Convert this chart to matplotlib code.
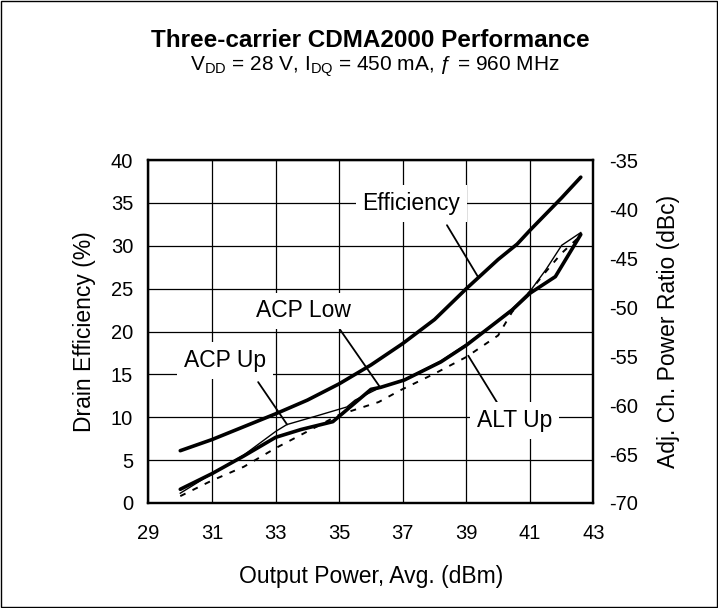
import numpy as np
import matplotlib; matplotlib.use("Agg")
import matplotlib.pyplot as plt
from matplotlib.patches import Rectangle

plt.rcParams['font.family'] = ['Liberation Sans', 'DejaVu Sans']
plt.rcParams['mathtext.fontset'] = 'custom'
plt.rcParams['mathtext.rm'] = 'Liberation Sans'
plt.rcParams['mathtext.it'] = 'Liberation Sans:italic'
plt.rcParams['axes.unicode_minus'] = False

# drain efficiency (%) vs output power (dBm), left axis
eff_x = [30.0, 31.0, 32.0, 33.0, 34.0, 35.0, 36.0, 37.0, 38.0, 39.0, 40.0, 40.6, 41.0, 42.0, 42.6]
eff_y = [6.1, 7.4, 8.9, 10.4, 12.0, 13.9, 16.1, 18.6, 21.4, 25.0, 28.4, 30.2, 31.8, 35.6, 38.0]

# adjacent channel power ratios (dBc), right axis
acpl_x = [30.0, 31.0, 32.0, 33.0, 33.8, 34.8, 36.0, 36.3, 37.05, 38.2, 39.0, 40.44, 41.0, 41.8, 42.6]
acpl_y = [-68.6, -67.0, -65.2, -63.3, -62.5, -61.7, -58.4, -58.2, -57.45, -55.6, -53.9, -50.3, -48.6, -46.9, -42.6]

acpu_x = [30.0, 31.0, 32.0, 33.0, 33.35, 34.2, 35.24, 35.5, 36.3, 37.05, 38.2, 39.0, 39.9, 40.44, 41.0, 41.5, 42.0, 42.6]
acpu_y = [-69.0, -67.0, -65.1, -62.7, -62.0, -61.2, -60.2, -59.5, -58.2, -57.4, -55.5, -53.8, -51.6, -50.2, -48.4, -46.2, -43.7, -42.4]

altu_x = [30.0, 31.0, 32.0, 33.0, 34.0, 35.0, 36.24, 36.92, 38.0, 39.0, 40.0, 40.44, 41.0, 41.5, 42.0, 42.6]
altu_y = [-69.3, -67.7, -66.3, -64.4, -62.7, -61.0, -59.7, -58.5, -56.8, -55.1, -52.9, -50.5, -48.4, -46.4, -44.5, -42.7]

fig = plt.figure(figsize=(7.18, 6.08), dpi=100)
ax = fig.add_axes([0.2068, 0.1727, 0.6198, 0.5641])
ax2 = ax.twinx()

ax.plot(eff_x, eff_y, color="k", lw=2.6, solid_capstyle="round", zorder=4)
ax2.plot(acpl_x, acpl_y, color="k", lw=2.6, solid_capstyle="round")
ax2.plot(acpu_x, acpu_y, color="k", lw=1.0)
ax2.plot(altu_x, altu_y, color="k", lw=1.4, ls=(0, (3, 4)))

ax.set_xlim(29, 43); ax.set_ylim(0, 40)
ax2.set_ylim(-70, -35)
ax.set_xticks(np.arange(29, 44, 2))
ax.set_yticks(np.arange(0, 41, 5))
ax2.set_yticks(np.arange(-70, -34, 5))
ax.grid(True, color="k", lw=0.9)
ax.set_axisbelow(True)
for a in (ax, ax2):
    a.tick_params(length=0, labelsize=14.5)
    for s in a.spines.values():
        s.set_linewidth(1.6)
ax.tick_params(axis="x", pad=15)
ax.tick_params(axis="y", pad=11)
ax2.tick_params(axis="y", pad=11)

ax.set_xlabel("Output Power, Avg. (dBm)", fontsize=16.5)
ax.xaxis.set_label_coords(0.5, -0.18)
ax.set_ylabel("Drain Efficiency (%)", fontsize=16.5)
ax.yaxis.set_label_coords(-0.117, 0.5)
ax2.set_ylabel("Adj. Ch. Power Ratio (dBc)", fontsize=16.5)
ax2.yaxis.set_label_coords(1.142, 0.5)

box = dict(facecolor="white", edgecolor="none", pad=5)
lab = dict(fontsize=16.5, ha="center", va="center", bbox=box, zorder=5)
ax.text(37.27, 34.9, "Efficiency", **lab)
ax.text(33.87, 22.4, "ACP Low", **lab)
ax.text(31.41, 16.6, "ACP Up", **lab)
ax.text(40.51, 9.6, "ALT Up", **lab)

# leader lines from the labels to the curves
lead = dict(arrowstyle="-", color="k", lw=1.3, shrinkA=0, shrinkB=0)
ax.annotate("", xy=(39.38, np.interp(39.38, eff_x, eff_y)), xytext=(38.39, 32.4),
            textcoords="data", arrowprops=lead)
ax.annotate("", xy=(36.29, np.interp(36.29, acpl_x, acpl_y)), xycoords=ax2.transData,
            xytext=(35.03, 20.2), textcoords="data", arrowprops=lead)
ax.annotate("", xy=(33.36, np.interp(33.36, acpu_x, acpu_y)), xycoords=ax2.transData,
            xytext=(32.45, 14.1), textcoords="data", arrowprops=lead)
ax.annotate("", xy=(39.06, np.interp(39.06, altu_x, altu_y)), xycoords=ax2.transData,
            xytext=(40.07, 11.1), textcoords="data", arrowprops=lead)

fig.text(0.516, 0.934, "Three-carrier CDMA2000 Performance", fontsize=17.5,
         fontweight="bold", ha="center", va="center")
fig.text(0.522, 0.891, r"V$_{\mathrm{DD}}$ = 28 V, I$_{\mathrm{DQ}}$ = 450 mA, ƒ = 960 MHz",
         fontsize=15, ha="center", va="center")

fig.patches.append(Rectangle((0.0015, 0.0018), 0.997, 0.996, transform=fig.transFigure,
                             fill=False, edgecolor="k", lw=1.0))

fig.savefig("out.png", dpi=100)
